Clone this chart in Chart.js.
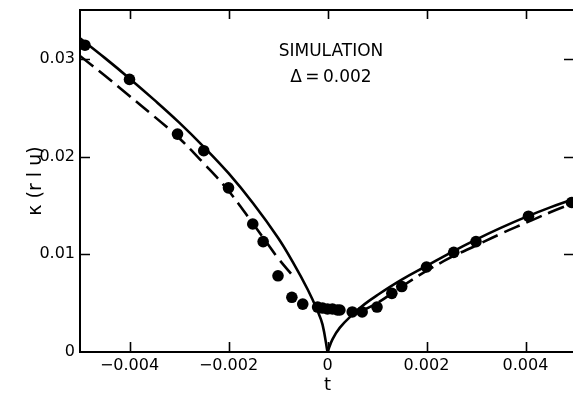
<!DOCTYPE html>
<html>
<head>
<meta charset="utf-8">
<script src="https://cdn.jsdelivr.net/npm/chart.js@4/dist/chart.umd.min.js"></script>
<style>
html,body{margin:0;padding:0;background:#fff;overflow:hidden;}
canvas{display:block;}
</style>
</head>
<body>
<canvas id="c" width="575" height="401"></canvas>
<script>
// ---- data ----
const xTicks = [-0.004, -0.002, 0, 0.002, 0.004];
const yTicks = [0, 0.01, 0.02, 0.03];

const dotT = [-0.0049, -0.004, -0.00303, -0.0025, -0.002, -0.00151, -0.0013, -0.001, -0.00072, -0.0005,
  -0.0002, -0.0001, 0, 0.0001, 0.0002, 0.00025, 0.0005, 0.0007, 0.001, 0.0013, 0.0015, 0.002, 0.00255, 0.003, 0.00406, 0.00493];
const dotK = [0.0314, 0.0279, 0.0223, 0.0206, 0.0168, 0.0131, 0.0113, 0.0078, 0.0056, 0.0049,
  0.0046, 0.0045, 0.0044, 0.0044, 0.0043, 0.0043, 0.0041, 0.0041, 0.0046, 0.0060, 0.0067, 0.0087, 0.0102, 0.0113, 0.0139, 0.0153];

const solidLeftT = [-0.005, -0.0045, -0.004, -0.0035, -0.003, -0.0025, -0.002, -0.0015, -0.001, -0.0007, -0.0004, -0.0002, -0.0001, 0];
const solidLeftK = [0.0321, 0.0301, 0.0280, 0.0258, 0.0235, 0.0210, 0.0183, 0.0152, 0.0117, 0.0092, 0.0064, 0.0042, 0.0028, 0];
const solidRightT = [0, 0.0001, 0.00025, 0.0005, 0.00075, 0.001, 0.0015, 0.002, 0.0025, 0.003, 0.0035, 0.004, 0.0045, 0.005];
const solidRightK = [0, 0.0013, 0.0025, 0.0038, 0.0049, 0.0058, 0.0074, 0.0088, 0.0102, 0.0115, 0.0127, 0.0138, 0.0148, 0.0157];

const dashLeftT = [-0.005, -0.0045, -0.004, -0.0035, -0.003, -0.0025, -0.002, -0.0015, -0.0012, -0.001, -0.0007];
const dashLeftK = [0.0303, 0.0283, 0.0262, 0.0241, 0.0219, 0.0193, 0.0165, 0.0131, 0.0110, 0.0096, 0.0078];
const dashRightT = [0.0006, 0.001, 0.0015, 0.002, 0.0025, 0.003, 0.0035, 0.004, 0.0045, 0.005];
const dashRightK = [0.0040, 0.0050, 0.0067, 0.0083, 0.0097, 0.0109, 0.0121, 0.0132, 0.0143, 0.0153];

const noteLines = ['SIMULATION', 'Δ\u2009=\u20090.002'];
const noteT = 0.00007;
const noteK = [0.0307, 0.0281];

// ---- helpers ----
const pts = (xs, ys) => xs.map((x, i) => ({x, y: ys[i]}));
const fmt = (v, d) => v === 0 ? '0' : (v < 0 ? '\u2212' : '') + Math.abs(v).toFixed(d);
const FONT = 'DejaVu Sans';

const framePlugin = {
  id: 'frame',
  afterDatasetsDraw(chart) {
    const {ctx, chartArea: a, scales: {x, y}} = chart;
    ctx.save();
    ctx.strokeStyle = '#000';
    ctx.lineWidth = 2;
    ctx.beginPath();
    ctx.rect(a.left, a.top, a.right - a.left, a.bottom - a.top);
    ctx.stroke();
    ctx.lineWidth = 1.6;
    ctx.beginPath();
    xTicks.forEach(v => {
      const px = Math.round(x.getPixelForValue(v)) + 0.5;
      ctx.moveTo(px, a.bottom); ctx.lineTo(px, a.bottom - 10);
      ctx.moveTo(px, a.top); ctx.lineTo(px, a.top + 9);
    });
    yTicks.forEach(v => {
      if (v === 0) return;
      const py = Math.round(y.getPixelForValue(v)) + 0.5;
      ctx.moveTo(a.left, py); ctx.lineTo(a.left + 10, py);
      ctx.moveTo(a.right, py); ctx.lineTo(a.right - 11, py);
    });
    ctx.stroke();
    ctx.fillStyle = '#000';
    ctx.textAlign = 'center';
    ctx.textBaseline = 'middle';
    ctx.font = '17px "' + FONT + '"';
    noteLines.forEach((s, i) => {
      ctx.fillText(s, x.getPixelForValue(noteT), y.getPixelForValue(noteK[i]));
    });
    ctx.restore();
  }
};

const lineDs = (t, k, dash) => ({
  data: pts(t, k), showLine: true, borderColor: '#000', borderWidth: 2.6,
  borderDash: dash, pointRadius: 0, tension: 0.4
});

new Chart(document.getElementById('c'), {
  type: 'scatter',
  data: {
    datasets: [
      lineDs(solidLeftT, solidLeftK, []),
      lineDs(solidRightT, solidRightK, []),
      lineDs(dashLeftT, dashLeftK, [17, 7]),
      lineDs(dashRightT, dashRightK, [17, 7]),
      {data: pts(dotT, dotK), showLine: false, pointRadius: 5.8, backgroundColor: '#000', borderColor: '#000', borderWidth: 0}
    ]
  },
  options: {
    responsive: false,
    animation: false,
    devicePixelRatio: 1,
    layout: {autoPadding: false, padding: {top: 10, left: 0, right: 0, bottom: 0}},
    plugins: {legend: {display: false}, tooltip: {enabled: false}},
    scales: {
      x: {
        type: 'linear', min: -0.005, max: 0.005,
        grid: {display: false, drawTicks: false},
        border: {display: false},
        afterBuildTicks: s => { s.ticks = xTicks.map(v => ({value: v})); },
        afterFit: s => { s.height = 49; s.paddingLeft = 0; s.paddingRight = 0; },
        ticks: {color: '#000', padding: 4, maxRotation: 0, font: {family: FONT, size: 16}, callback: v => fmt(v, 3)},
        title: {display: true, text: 't', color: '#000', font: {family: FONT, size: 18}, padding: {top: 0, bottom: 5}}
      },
      y: {
        type: 'linear', min: 0, max: 0.035,
        grid: {display: false, drawTicks: false},
        border: {display: false},
        afterBuildTicks: s => { s.ticks = yTicks.map(v => ({value: v})); },
        afterFit: s => { s.width = 80; s.paddingTop = 0; s.paddingBottom = 0; },
        ticks: {color: '#000', padding: 5, font: {family: FONT, size: 16}, callback: v => fmt(v, 2)},
        title: {display: true, text: 'κ (r l u)', color: '#000', font: {family: FONT, size: 19}, padding: {top: 25, bottom: 0}}
      }
    }
  },
  plugins: [framePlugin]
});
</script>
</body>
</html>
